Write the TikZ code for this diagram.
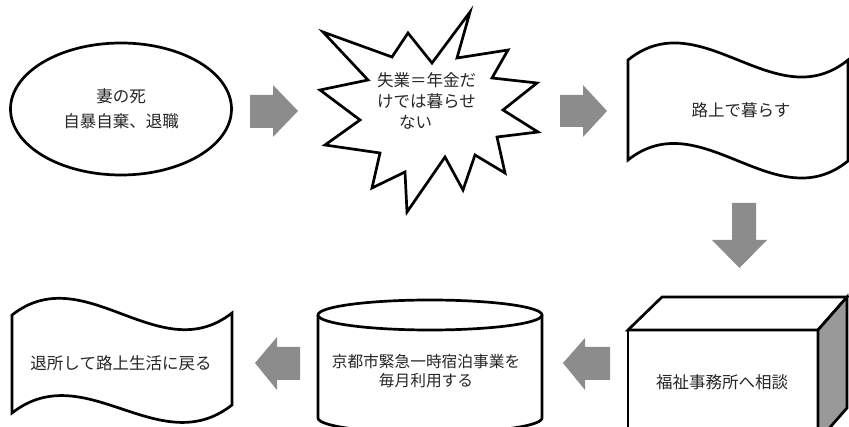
\documentclass[tikz,border=0pt]{standalone}
\usepackage{fontspec}
\setmainfont{Noto Sans CJK JP}
\usetikzlibrary{shapes.geometric}
\begin{document}
\begin{tikzpicture}[x=1pt,y=-1pt,
  shp/.style={draw=black, line width=2.7pt, line join=miter, fill=white},
  blk/.style={fill=black!45, draw=none},
  side/.style={draw=black, line width=2.7pt, line join=miter, fill=black!40},
  lbl/.style={font=\fontsize{16.5}{21}\selectfont, text=black!85, inner sep=0pt, align=center}]
\useasboundingbox (0,0) rectangle (849,427);
\clip (0,0) rectangle (849,427);

% 1: ellipse
\node[shp, ellipse, minimum width=221pt, minimum height=132pt, inner sep=0pt, lbl] (death) at (121,109)
  {妻の死\\[4pt]自暴自棄、退職};

% 2: starburst
\draw[shp] (323,32) -- (392,57) -- (408,33) -- (432,63) -- (470,12) -- (457,58)
  -- (508,50) -- (492,78) -- (537,83) -- (503,110) -- (538,132) -- (497,137)
  -- (505,173) -- (475,155) -- (463,190) -- (445,157) -- (407,212) -- (405,172)
  -- (372,188) -- (380,153) -- (325,145) -- (360,120) -- (320,90) -- (368,80) -- cycle;
\node[lbl, align=left, anchor=west] (burst) at (377,101)
  {失業＝年金だ\\けでは暮らせ\\\hspace*{22pt}ない};

% 3: tape 1
\draw[shp] (628,60) .. controls (701,1) and (775,119) .. (848,60)
  -- (848,161) .. controls (775,220) and (701,102) .. (628,160) -- cycle;
\node[lbl] (street) at (741,110) {路上で暮らす};

% 4: box
\draw[shp] (628,330) rectangle (818,445);
\draw[shp] (628,330) -- (662,297) -- (847,297) -- (818,330) -- cycle;
\draw[side] (818,330) -- (847,297) -- (847,408) -- (818,441) -- cycle;
\node[lbl] (office) at (722,382) {福祉事務所へ相談};

% 5: cylinder
\draw[shp] (318,315) -- (318,418) arc[start angle=180, end angle=360, x radius=112, y radius=-15]
  -- (542,315);
\draw[shp] (430,315) ellipse [x radius=112, y radius=15];
\node[lbl, font=\fontsize{15.7}{19}\selectfont] (shelter) at (426,371)
  {京都市緊急一時宿泊事業を\\毎月利用する};

% 6: tape 2
\draw[shp] (12,315) .. controls (85,258) and (159,370) .. (232,313)
  -- (232,405) .. controls (159,462) and (85,356) .. (12,413) -- cycle;
\node[lbl] (back) at (121,363) {退所して路上生活に戻る};

% block arrows
\fill[blk] (250,95) -- (273,95) -- (273,85) -- (298,111) -- (273,137) -- (273,128) -- (250,128) -- cycle;
\fill[blk] (560,95) -- (583,95) -- (583,85) -- (607,111) -- (583,137) -- (583,127) -- (560,127) -- cycle;
\fill[blk] (732,203) -- (756,203) -- (756,240) -- (767,240) -- (739.5,268) -- (712,240) -- (732,240) -- cycle;
\fill[blk] (610,347) -- (585,347) -- (585,338) -- (563,363) -- (585,390) -- (585,380) -- (610,380) -- cycle;
\fill[blk] (300,347) -- (277,347) -- (277,337) -- (255,363) -- (277,390) -- (277,380) -- (300,380) -- cycle;
\end{tikzpicture}
\end{document}
